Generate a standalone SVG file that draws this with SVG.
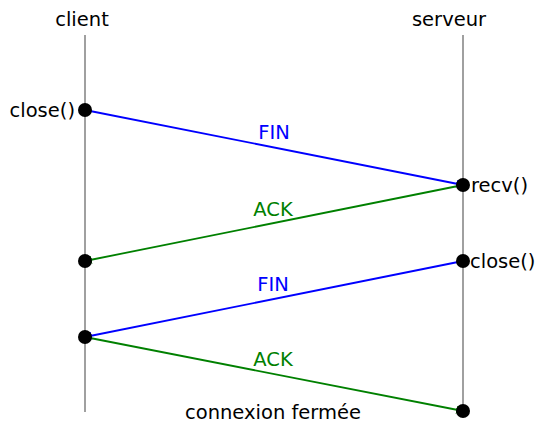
<svg xmlns="http://www.w3.org/2000/svg" width="540" height="423" viewBox="0 0 540 423">
<defs>
<style>
text{font-family:"DejaVu Sans","Liberation Sans",sans-serif;font-size:19.5px}
.life{stroke:#808080;stroke-width:1.5}
.fin{stroke:#0000ff;stroke-width:1.8;fill:none}
.ack{stroke:#008000;stroke-width:1.8;fill:none}
.dot{fill:#000}
</style>
<marker id="ab" markerWidth="8" markerHeight="8" refX="7" refY="4" orient="auto" markerUnits="userSpaceOnUse"><path d="M0,0 L8,4 L0,8 Z" fill="#0000ff"/></marker>
<marker id="ag" markerWidth="8" markerHeight="8" refX="7" refY="4" orient="auto" markerUnits="userSpaceOnUse"><path d="M0,0 L8,4 L0,8 Z" fill="#008000"/></marker>
</defs>
<rect width="540" height="423" fill="#fff"/>
<g id="client">
<text x="82" y="26" text-anchor="middle">client</text>
<line class="life" x1="85" y1="35" x2="85" y2="412"/>
</g>
<g id="serveur">
<text x="449" y="26" text-anchor="middle">serveur</text>
<line class="life" x1="463" y1="35" x2="463" y2="411"/>
</g>
<g id="connectors">
<line class="fin" x1="85" y1="110" x2="463" y2="185" marker-end="url(#ab)"/>
<line class="ack" x1="463" y1="185" x2="85" y2="261" marker-end="url(#ag)"/>
<line class="fin" x1="463" y1="261" x2="85" y2="337" marker-end="url(#ab)"/>
<line class="ack" x1="85" y1="337" x2="463" y2="411" marker-end="url(#ag)"/>
<text x="274" y="139" text-anchor="middle" fill="#0000ff">FIN</text>
<text x="273" y="216" text-anchor="middle" fill="#008000">ACK</text>
<text x="273" y="291" text-anchor="middle" fill="#0000ff">FIN</text>
<text x="273" y="366" text-anchor="middle" fill="#008000">ACK</text>
</g>
<g id="c1"><circle class="dot" cx="85" cy="110" r="7"/><text x="75" y="117" text-anchor="end">close()</text></g>
<g id="s1"><circle class="dot" cx="463" cy="185" r="7"/><text x="471" y="192">recv()</text></g>
<g id="c2"><circle class="dot" cx="85" cy="261" r="7"/></g>
<g id="s2"><circle class="dot" cx="463" cy="261" r="7"/><text x="470" y="268">close()</text></g>
<g id="c3"><circle class="dot" cx="85" cy="337" r="7"/></g>
<g id="s3"><circle class="dot" cx="463" cy="411" r="7"/></g>
<g id="end"><text x="273" y="419" text-anchor="middle">connexion fermée</text></g>
</svg>
